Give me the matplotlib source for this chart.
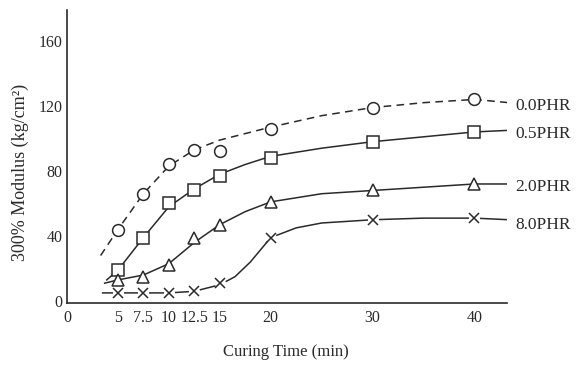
import matplotlib.pyplot as plt

# curing time (min) and 300% modulus (kg/cm2) for each accelerator level
tempo = [5, 7.5, 10, 12.5, 15, 20, 30, 40]
phr_00 = [44, 66, 84, 93, 92, 106, 119, 124]
phr_05 = [19, 39, 60, 68, 77, 88, 98, 104]
phr_20 = [13, 15, 22, 39, 47, 61, 68, 72]
phr_80 = [5, 5, 5, 6, 11, 39, 50, 51]

# hand-drawn trend curves
curva_t_00 = [3.3, 5, 7.5, 10, 12.5, 15, 17.5, 20, 25, 30, 35, 40, 43.4]
curva_00 = [28, 44, 66, 83, 93, 99, 103, 107, 114, 119, 122, 124, 122]
curva_t_05 = [3.9, 5, 7.5, 10, 12.5, 15, 17.5, 20, 25, 30, 35, 40, 43.4]
curva_05 = [13, 19, 39, 58, 69, 78, 84, 89, 94, 98, 101, 104, 105]
curva_t_20 = [3.7, 5, 7.5, 10, 12.5, 15, 17.5, 20, 25, 30, 35, 40, 43.4]
curva_20 = [11, 13, 16, 23, 36, 47, 55, 61, 66, 68, 70, 72, 72]
curva_t_80 = [3.5, 5, 7.5, 10, 12.5, 15, 16.5, 18, 20, 22.5, 25, 30, 35, 40, 43.4]
curva_80 = [5, 5, 5, 5, 6, 10, 15, 24, 39, 45, 48, 50, 51, 51, 50]

rotulos = ['0.0PHR', '0.5PHR', '2.0PHR', '8.0PHR']
rotulo_y = [120, 103, 70, 47]

xticks = [0, 5, 7.5, 10, 12.5, 15, 20, 30, 40]
xtick_txt = ['0', '5', '7.5', '10', '12.5', '15', '20', '30', '40']
yticks = [0, 40, 80, 120, 160]

plt.rcParams['font.family'] = ['Liberation Serif', 'DejaVu Serif']
cor = '#2a2a2a'

fig = plt.figure(figsize=(5.88, 3.69), dpi=100)
ax = fig.add_axes([67 / 588, 66 / 369, 440 / 588, 293 / 369])

ax.plot(curva_t_00, curva_00, color=cor, lw=1.1, dashes=(5, 3.5))
ax.plot(curva_t_05, curva_05, color=cor, lw=1.1)
ax.plot(curva_t_20, curva_20, color=cor, lw=1.1)
ax.plot(curva_t_80, curva_80, color=cor, lw=1.1)

mk = dict(color=cor, ls='none', markerfacecolor='white', markeredgewidth=1.1, zorder=4)
ax.plot(tempo, phr_00, marker='o', markersize=8.5, **mk)
ax.plot(tempo, phr_05, marker='s', markersize=8, **mk)
ax.plot(tempo, phr_20, marker='^', markersize=8.5, **mk)
ax.plot(tempo, phr_80, marker='o', markersize=7, color='white', ls='none', zorder=3)
ax.plot(tempo, phr_80, marker='x', markersize=7.5, color=cor, ls='none',
        markeredgewidth=1.1, zorder=4)

for txt, yv in zip(rotulos, rotulo_y):
    ax.text(44.0, yv, txt, fontsize=12.5, color=cor, va='center', ha='left',
            clip_on=False)

ax.set_xlim(0, 43.2)
ax.set_ylim(-1.2, 179)
ax.set_xticks(xticks)
ax.set_xticklabels(xtick_txt)
ax.set_yticks(yticks)
ax.tick_params(axis='both', length=0, labelsize=11.5, colors=cor)
ax.tick_params(axis='x', pad=5)
ax.tick_params(axis='y', pad=3)

for lado in ['top', 'right']:
    ax.spines[lado].set_visible(False)
for lado in ['left', 'bottom']:
    ax.spines[lado].set_color(cor)
    ax.spines[lado].set_linewidth(1.2)

fig.text(20 / 588, 1 - 172 / 369, '300% Modulus (kg/cm²)', rotation=90,
         fontsize=13, color=cor, ha='center', va='center')
fig.text(286 / 588, 1 - 352 / 369, 'Curing Time (min)', fontsize=12,
         color=cor, ha='center', va='center')

fig.savefig('out.png', dpi=100)
